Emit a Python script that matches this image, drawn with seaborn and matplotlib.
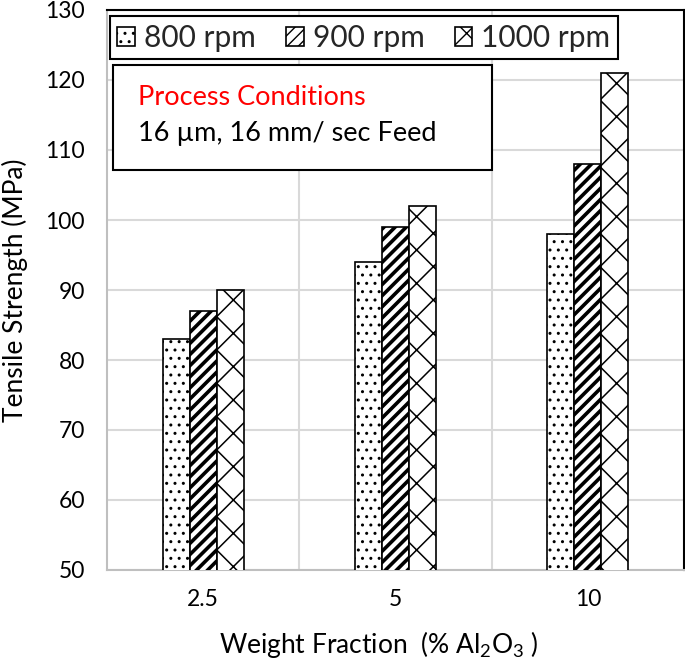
import matplotlib
matplotlib.use("Agg")
import matplotlib.pyplot as plt
import matplotlib.patches as mpatches
import seaborn as sns
import pandas as pd

categories = ["2.5", "5", "10"]
speeds = ["800 rpm", "900 rpm", "1000 rpm"]
vals_800 = [83, 94, 98]
vals_900 = [87, 99, 108]
vals_1000 = [90, 102, 121]
yticks = [50, 60, 70, 80, 90, 100, 110, 120, 130]

rows = []
for spd, vals in zip(speeds, [vals_800, vals_900, vals_1000]):
    for c, v in zip(categories, vals):
        rows.append({"wf": c, "speed": spd, "ts": v})
df = pd.DataFrame(rows)

sns.set_theme(style="white")
plt.rcParams["font.family"] = ["Lato", "DejaVu Sans"]
plt.rcParams["mathtext.fontset"] = "custom"
plt.rcParams["mathtext.rm"] = "Lato"
plt.rcParams["mathtext.it"] = "Lato"
plt.rcParams["hatch.color"] = "black"

fig = plt.figure(figsize=(6.85, 6.65), dpi=100)
ax = fig.add_axes([107/685, 95/665, 577/685, 560/665])

sns.barplot(data=df, x="wf", y="ts", hue="speed", order=categories,
            hue_order=speeds, palette=["white"] * 3, saturation=1,
            edgecolor="black", linewidth=1.2, width=0.42, legend=False,
            ax=ax, zorder=3)

hatches = ["..", "///", "x"]
hlw = [1.0, 2.6, 1.1]
for cont, h, lw in zip(ax.containers, hatches, hlw):
    for p in cont.patches:
        p.set_hatch(h)
        p.set_zorder(3)
        if hasattr(p, "set_hatch_linewidth"):
            p.set_hatch_linewidth(lw)

ax.set_ylim(50, 130)
ax.set_yticks(yticks)
ax.set_xlim(-0.5, 2.5)
ax.set_xticks([0.5, 1.5], minor=True)
ax.grid(True, axis="y", color="#d9d9d9", lw=1.5, zorder=0)
ax.grid(True, axis="x", which="minor", color="#d9d9d9", lw=1.5, zorder=0)
ax.grid(False, axis="x", which="major")
ax.set_axisbelow(True)

for s in ["left", "bottom"]:
    ax.spines[s].set_color("#bfbfbf")
    ax.spines[s].set_linewidth(1.5)
for s in ["top", "right"]:
    ax.spines[s].set_color("black")
    ax.spines[s].set_linewidth(1.5)

ax.tick_params(axis="both", which="both", length=0, labelsize=16.5, colors="black")
ax.tick_params(axis="y", pad=16)
ax.tick_params(axis="x", pad=14)

ax.set_ylabel("Tensile Strength (MPa)", fontsize=19, color="black")
ax.set_xlabel(r"Weight Fraction  (% Al$_2$O$_3$ )", fontsize=19, color="black")
ax.yaxis.set_label_coords(-0.137, 0.5)
ax.xaxis.set_label_coords(0.471, -0.105)

leg = ax.legend(handles=[c.patches[0] for c in ax.containers], labels=speeds,
                loc="upper left", bbox_to_anchor=(0.005, 0.989), ncol=3,
                frameon=True, fancybox=False, edgecolor="black", framealpha=1,
                fontsize=21.5, handlelength=0.6, handleheight=0.6,
                handletextpad=0.3, columnspacing=1.0, borderaxespad=0,
                borderpad=0.25)
leg.get_frame().set_linewidth(1.5)
leg.set_zorder(10)

box = mpatches.Rectangle((0.0104, 0.714), 0.657, 0.188, transform=ax.transAxes,
                         facecolor="white", edgecolor="black", lw=1.5, zorder=8)
ax.add_patch(box)
ax.text(0.054, 0.843, "Process Conditions", transform=ax.transAxes,
        fontsize=19.5, color="red", va="center", ha="left", zorder=9)
ax.text(0.054, 0.78, "16 µm, 16 mm/ sec Feed", transform=ax.transAxes,
        fontsize=19.5, color="black", va="center", ha="left", zorder=9)

fig.savefig("out.png", dpi=100)
